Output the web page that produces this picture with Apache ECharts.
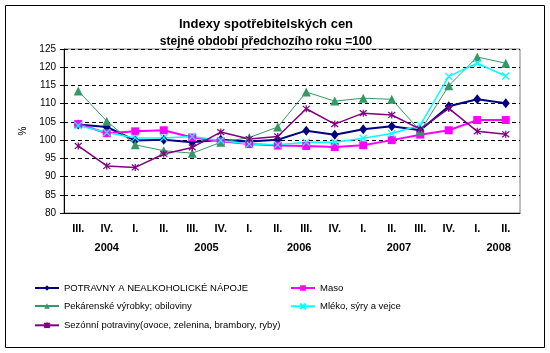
<!DOCTYPE html>
<html>
<head>
<meta charset="utf-8">
<script src="https://cdn.jsdelivr.net/npm/echarts@6/dist/echarts.min.js"></script>
<style>
  html, body { margin: 0; padding: 0; background: #fff; }
  #chart { width: 550px; height: 353px; }
</style>
</head>
<body>
<div id="chart"></div>
<script>
const quarters = ['III.', 'IV.', 'I.', 'II.', 'III.', 'IV.', 'I.', 'II.', 'III.', 'IV.', 'I.', 'II.', 'III.', 'IV.', 'I.', 'II.'];
const years = ['2004', '2005', '2006', '2007', '2008'];
const potraviny = [104.3, 103.6, 99.9, 100.1, 99.4, 100.1, 99.6, 100.1, 102.6, 101.5, 103.0, 103.8, 102.7, 109.3, 111.2, 110.1];
const maso = [104.4, 101.9, 102.4, 102.7, 100.7, 99.7, 98.9, 98.5, 98.4, 98.1, 98.6, 100.0, 101.5, 102.7, 105.5, 105.5];
const pekarenske = [113.5, 105.2, 98.7, 97.1, 96.4, 99.4, 100.7, 103.6, 113.2, 110.7, 111.5, 111.2, 102.5, 114.9, 122.8, 121.1];
const mleko = [104.0, 102.1, 100.6, 100.6, 101.0, 99.9, 98.9, 98.7, 99.4, 99.4, 100.5, 101.8, 104.1, 117.5, 121.1, 117.6];
const sezonni = [98.4, 92.9, 92.5, 96.2, 98.0, 102.2, 100.3, 101.0, 108.6, 104.4, 107.4, 106.9, 103.0, 108.7, 102.4, 101.6];

// where excel put the year labels (in category units from the left edge)
const yearAt = [1.5, 5, 8.25, 11.75, 15.25];

const names = [
  'POTRAVNY A NEALKOHOLICKÉ NÁPOJE',
  'Maso',
  'Pekárenské výrobky; obiloviny',
  'Mléko, sýry a vejce',
  'Sezónní potraviny(ovoce, zelenina, brambory, ryby)'
];

const crossSym = 'path://M0,0L10,10M10,0L0,10';
const starSym = 'path://M0,0L10,10M10,0L0,10M5,-1L5,11';

const chart = echarts.init(document.getElementById('chart'));

const legendAt = [[34, 283], [290, 283], [34, 301], [290, 301], [34, 320]];

const option = {
  animation: false,
  backgroundColor: '#fff',
  textStyle: { fontFamily: 'Liberation Sans, Arial, sans-serif' },
  title: {
    text: 'Indexy spotřebitelských cen',
    subtext: 'stejné období předchozího roku =100',
    left: 261,
    top: 13,
    textAlign: 'center',
    itemGap: 5,
    textStyle: { fontSize: 13, fontWeight: 'bold', color: '#000' },
    subtextStyle: { fontSize: 12, fontWeight: 'bold', color: '#000' }
  },
  grid: {
    left: 64, right: 30, top: 49, bottom: 140,
    show: true, borderColor: '#808080', borderWidth: 1, backgroundColor: '#fff'
  },
  legend: legendAt.map((p, i) => ({
    data: [names[i]],
    left: p[0], top: p[1],
    padding: 0,
    itemWidth: 24, itemHeight: 7,
    textStyle: { fontSize: 9.5, color: '#000' }
  })),
  xAxis: [{
    type: 'category',
    data: quarters,
    boundaryGap: true,
    axisLine: { lineStyle: { color: '#000', width: 1 } },
    axisTick: { inside: true, length: 3, lineStyle: { color: '#000' } },
    axisLabel: { interval: 0, margin: 10, fontSize: 11, fontWeight: 'bold', color: '#000' }
  }, {
    type: 'value',
    min: 0, max: 16, interval: 0.25,
    position: 'bottom',
    offset: 19,
    axisLine: { show: false },
    axisTick: { show: false },
    splitLine: { show: false },
    axisLabel: {
      margin: 10, fontSize: 11, fontWeight: 'bold', color: '#000',
      showMinLabel: true, showMaxLabel: true,
      formatter: v => {
        const k = yearAt.indexOf(v);
        return k >= 0 ? years[k] : '';
      }
    }
  }],
  yAxis: {
    type: 'value',
    min: 80, max: 125, interval: 5,
    name: '%',
    nameLocation: 'middle',
    nameGap: 36,
    nameRotate: 90,
    nameTextStyle: { fontSize: 10, color: '#000' },
    axisLine: { show: true, lineStyle: { color: '#000' } },
    axisTick: { show: true, length: 4, lineStyle: { color: '#000' } },
    axisLabel: { margin: 8, fontSize: 10, color: '#000' },
    splitLine: { lineStyle: { color: '#000', type: [4, 3], width: 1 } }
  },
  series: [
    {
      name: names[0], type: 'line', data: potraviny,
      symbol: 'diamond', symbolSize: [8, 10],
      itemStyle: { color: '#000080' }, lineStyle: { color: '#000080', width: 2 }
    },
    {
      name: names[1], type: 'line', data: maso,
      symbol: 'rect', symbolSize: 8,
      itemStyle: { color: '#FF00FF' }, lineStyle: { color: '#FF00FF', width: 2 }
    },
    {
      name: names[2], type: 'line', data: pekarenske,
      symbol: 'triangle', symbolSize: [9, 9],
      itemStyle: { color: '#339966' }, lineStyle: { color: '#339966', width: 1 }
    },
    {
      name: names[3], type: 'line', data: mleko,
      symbol: crossSym, symbolSize: 7,
      itemStyle: { color: 'none', borderColor: '#00FFFF', borderWidth: 1.2 },
      lineStyle: { color: '#00FFFF', width: 1.5 }
    },
    {
      name: names[4], type: 'line', data: sezonni,
      symbol: starSym, symbolSize: 7,
      itemStyle: { color: 'none', borderColor: '#800080', borderWidth: 1.2 },
      lineStyle: { color: '#800080', width: 1.5 }
    }
  ],
  graphic: [{
    type: 'rect',
    shape: { x: 5.5, y: 5.5, width: 539, height: 342 },
    style: { fill: null, stroke: '#000', lineWidth: 1 },
    silent: true, z: 100
  }]
};

chart.setOption(option);
</script>
</body>
</html>
